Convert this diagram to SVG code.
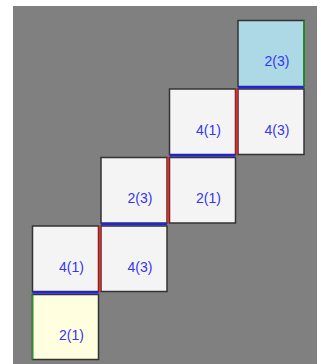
<svg xmlns="http://www.w3.org/2000/svg" width="321" height="364" viewBox="0 0 321 364">
<style>
.bx{stroke:#333;stroke-width:1.5;}
.cell{fill:#f4f4f4;}
.t{font-family:"Liberation Sans",Arial,sans-serif;font-size:14px;fill:#3535f5;text-anchor:middle;}
.b{stroke:#1f1fff;stroke-width:2;}
.r{stroke:#ff2020;stroke-width:2;}
.g{stroke:#1e9a1e;stroke-width:1.5;}
</style>
<rect x="0" y="0" width="321" height="364" fill="#ffffff"/>
<rect x="13" y="6" width="304" height="358" fill="#808080"/>
<g id="nA"><rect class="bx" x="238" y="20.5" width="66" height="66" fill="#add8e6"/><text class="t" x="277" y="66">2(3)</text></g>
<g id="nB"><rect class="bx cell" x="169.5" y="89" width="66" height="65.5"/><text class="t" x="208.5" y="134.5">4(1)</text></g>
<g id="nC"><rect class="bx cell" x="238" y="89" width="66" height="65.5"/><text class="t" x="277" y="134.5">4(3)</text></g>
<g id="nD"><rect class="bx cell" x="101" y="157.5" width="66" height="65.5"/><text class="t" x="140" y="203">2(3)</text></g>
<g id="nE"><rect class="bx cell" x="169.5" y="157.5" width="66" height="65.5"/><text class="t" x="208.5" y="203">2(1)</text></g>
<g id="nF"><rect class="bx cell" x="32.5" y="226" width="66" height="65.5"/><text class="t" x="71.5" y="271.5">4(1)</text></g>
<g id="nG"><rect class="bx cell" x="101" y="226" width="66" height="65.5"/><text class="t" x="140" y="271.5">4(3)</text></g>
<g id="nH"><rect class="bx" x="32.5" y="294.5" width="66" height="65" fill="#ffffe0"/><text class="t" x="71.5" y="340">2(1)</text></g>
<g id="connectors">
<line class="b" x1="238" y1="87.3" x2="304" y2="87.3"/>
<line class="b" x1="169.5" y1="155.6" x2="235.5" y2="155.6"/>
<line class="b" x1="101" y1="224" x2="167" y2="224"/>
<line class="b" x1="32.5" y1="292.6" x2="98.5" y2="292.6"/>
<line class="r" x1="236.6" y1="89" x2="236.6" y2="154.5"/>
<line class="r" x1="168.2" y1="157.5" x2="168.2" y2="223"/>
<line class="r" x1="99.7" y1="226" x2="99.7" y2="291.5"/>
<line class="g" x1="304" y1="20.5" x2="304" y2="86.5"/>
<line class="g" x1="32.5" y1="294.5" x2="32.5" y2="359.5"/>
</g>
</svg>
